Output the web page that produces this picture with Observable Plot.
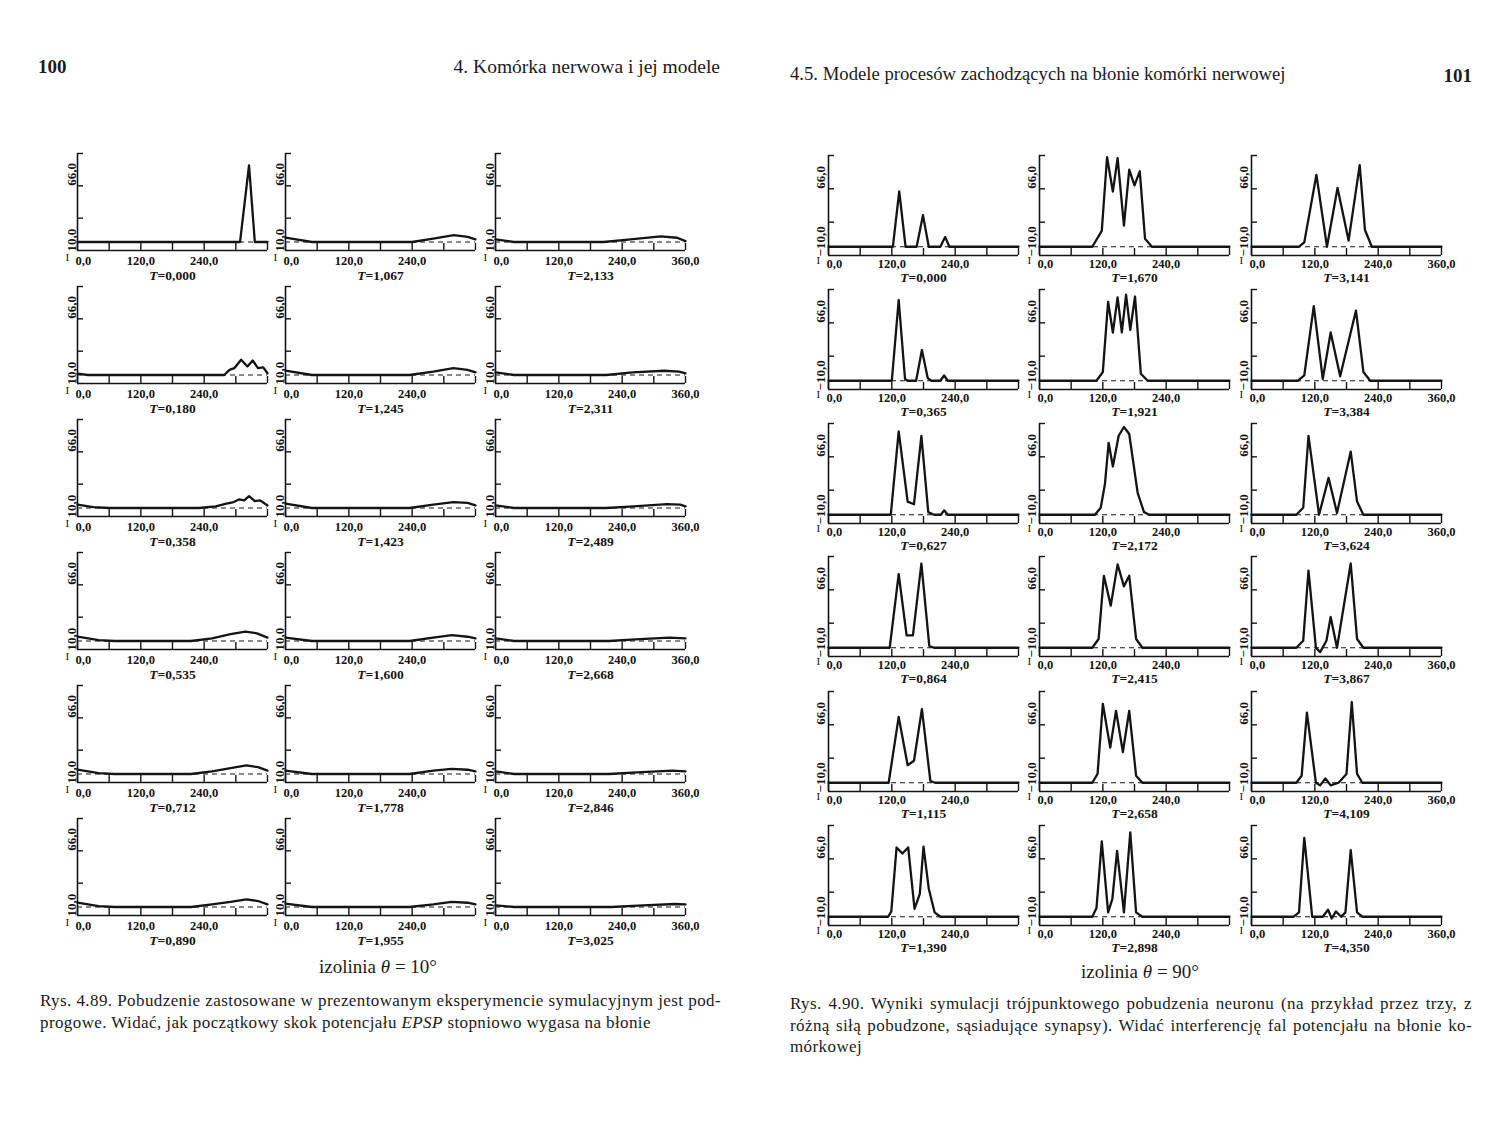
<!DOCTYPE html>
<html><head><meta charset="utf-8">
<script src="https://cdn.jsdelivr.net/npm/d3@7"></script>
<script src="https://cdn.jsdelivr.net/npm/@observablehq/plot@0.6"></script>
<style>
body{margin:0;background:#fff;}
#page{position:relative;width:1500px;height:1148px;overflow:hidden;font-family:"Liberation Serif","DejaVu Serif",serif;color:#1b1b1b;background:#fff}
.abs{position:absolute;white-space:nowrap}
.cap{position:absolute;font-size:17px;line-height:21px;letter-spacing:0.4px}
.jl{text-align:justify;text-align-last:justify;white-space:normal}
</style></head><body><div id="page"></div>
<script>
// ---------- tick / label values ----------
const xTicks = [0, 60, 120, 180, 240, 300, 360];
const yTicks = [28, 66, 104];
const xLabelsInner = [120, 240];
const xLabelsLast = [120, 240, 360];

// ---------- T labels (column-major: column 1 rows 1-6, column 2 ..., column 3 ...) ----------
const leftT = ["0,000","0,180","0,358","0,535","0,712","0,890",
               "1,067","1,245","1,423","1,600","1,778","1,955",
               "2,133","2,311","2,489","2,668","2,846","3,025"];
const rightT = ["0,000","0,365","0,627","0,864","1,115","1,390",
                "1,670","1,921","2,172","2,415","2,658","2,898",
                "3,141","3,384","3,624","3,867","4,109","4,350"];

// ---------- left page curves (izolinia 10°) : [x, potential] ----------
const L_c1r1 = [[0,0],[308,0],[325,90],[336,0],[360,0]];
const L_c1r2 = [[0,1.5],[20,0],[278,0],[288,6],[297,8],[310,18],[322,10],[332,17],[342,8],[352,9],[360,2]];
const L_c1r3 = [[0,4],[30,1],[60,0],[230,0],[262,2],[282,5],[296,7],[306,10],[316,9],[325,14],[336,8],[346,9],[360,3]];
const L_c1r4 = [[0,5],[40,1],[70,0],[215,0],[255,3],[290,8],[318,11],[340,9],[360,4]];
const L_c1r5 = [[0,5],[40,1],[70,0],[215,0],[255,3],[290,7],[320,10],[342,8],[360,4]];
const L_c1r6 = [[0,5],[40,1],[70,0],[215,0],[255,3],[290,6],[320,9],[342,7],[360,3]];
const L_c2r1 = [[0,5],[50,0],[240,0],[280,4],[319,8],[345,6],[360,3]];
const L_c2r2 = [[0,5],[50,0],[235,0],[280,4],[318,8],[345,6],[360,3]];
const L_c2r3 = [[0,5],[50,0],[235,0],[280,4],[318,7],[345,6],[360,3]];
const L_c2r4 = [[0,4],[50,0],[235,0],[280,4],[315,7],[345,5],[360,3]];
const L_c2r5 = [[0,4],[50,0],[235,0],[280,4],[315,6],[345,5],[360,3]];
const L_c2r6 = [[0,4],[50,0],[235,0],[280,3],[315,6],[345,5],[360,3]];
const L_c3r1 = [[0,3],[35,0],[205,0],[256,3],[313,6.7],[344,5],[360,1]];
const L_c3r2 = [[0,3],[35,0],[210,0],[260,3],[320,5],[348,4],[360,2]];
const L_c3r3 = [[0,3],[35,0],[210,0],[262,2],[325,4.5],[350,4],[360,2]];
const L_c3r4 = [[0,3],[35,0],[215,0],[265,2],[330,4],[360,3]];
const L_c3r5 = [[0,3],[35,0],[215,0],[268,2],[335,4],[360,3]];
const L_c3r6 = [[0,2],[35,0],[220,0],[270,1.5],[340,3.5],[360,3]];

// ---------- right page curves (izolinia 90°) ----------
const R_c1r1 = [[0,0],[122,0],[134,63],[146,0],[167,0],[179,36],[190,0],[212,0],[221,11],[229,0],[360,0]];
const R_c1r2 = [[0,0],[120,0],[133,92],[145,2],[150,0],[166,0],[177,35],[188,3],[195,0],[212,0],[219,6],[226,0],[360,0]];
const R_c1r3 = [[0,0],[118,0],[133,95],[150,15],[162,12],[176,90],[189,3],[200,0],[213,0],[219,5],[226,0],[360,0]];
const R_c1r4 = [[0,0],[116,0],[133,84],[148,14],[160,14],[176,96],[191,2],[200,0],[360,0]];
const R_c1r5 = [[0,0],[114,0],[133,75],[150,20],[162,25],[177,84],[193,2],[202,0],[360,0]];
const R_c1r6 = [[0,0],[113,0],[119,6],[129,79],[140,72],[151,79],[163,9],[173,26],[180,80],[190,32],[201,5],[212,0],[360,0]];
const R_c2r1 = [[0,0],[100,0],[118,18],[128,102],[139,63],[148,101],[160,24],[170,88],[180,70],[190,86],[200,9],[213,0],[360,0]];
const R_c2r2 = [[0,0],[108,0],[120,10],[130,90],[139,55],[148,95],[156,55],[164,98],[172,58],[181,96],[192,8],[205,0],[360,0]];
const R_c2r3 = [[0,0],[105,0],[116,8],[124,35],[131,82],[139,55],[150,90],[160,100],[170,92],[186,25],[198,3],[208,0],[360,0]];
const R_c2r4 = [[0,0],[100,0],[112,10],[122,82],[135,48],[148,95],[160,70],[170,82],[183,10],[195,0],[360,0]];
const R_c2r5 = [[0,0],[100,0],[110,10],[120,90],[134,40],[145,82],[158,35],[170,82],[183,8],[195,0],[360,0]];
const R_c2r6 = [[0,0],[100,0],[108,10],[118,86],[130,5],[138,20],[147,75],[160,5],[172,96],[183,5],[195,0],[360,0]];
const R_c3r1 = [[0,0],[90,0],[100,5],[123,82],[143,0],[163,67],[184,7],[205,93],[215,19],[228,0],[360,0]];
const R_c3r2 = [[0,0],[88,0],[100,6],[118,85],[135,2],[150,55],[168,5],[198,80],[212,10],[225,0],[360,0]];
const R_c3r3 = [[0,0],[85,0],[98,8],[108,90],[128,0],[146,42],[162,2],[188,72],[200,15],[212,0],[360,0]];
const R_c3r4 = [[0,0],[85,0],[98,8],[108,88],[122,0],[130,-5],[142,8],[150,35],[162,0],[188,96],[200,10],[212,0],[360,0]];
const R_c3r5 = [[0,0],[85,0],[95,8],[105,80],[122,0],[130,-3],[140,5],[150,-3],[165,0],[180,10],[190,92],[200,10],[210,0],[360,0]];
const R_c3r6 = [[0,0],[80,0],[90,5],[100,90],[115,0],[135,0],[145,8],[152,-2],[160,6],[170,0],[178,5],[188,76],[200,5],[210,0],[360,0]];

const leftCurves = [L_c1r1,L_c1r2,L_c1r3,L_c1r4,L_c1r5,L_c1r6,
                    L_c2r1,L_c2r2,L_c2r3,L_c2r4,L_c2r5,L_c2r6,
                    L_c3r1,L_c3r2,L_c3r3,L_c3r4,L_c3r5,L_c3r6];
const rightCurves = [R_c1r1,R_c1r2,R_c1r3,R_c1r4,R_c1r5,R_c1r6,
                     R_c2r1,R_c2r2,R_c2r3,R_c2r4,R_c2r5,R_c2r6,
                     R_c3r1,R_c3r2,R_c3r3,R_c3r4,R_c3r5,R_c3r6];

// ---------- layout ----------
const W = 190, mL = 30, mR = 26, mT = 8, mB = 46;
const INK = "#141414";
const FONT = "'Liberation Serif', 'DejaVu Serif', serif";
const page = document.getElementById("page");

function fmt(minus) {
  return v => (v < 0 && minus ? "\u2212" : "") + Math.abs(v).toFixed(1).replace(".", ",");
}

function makePanel(pts, t, last, minus, innerH, xDy, tDy, yDx) {
  const data = pts.map(([x, y]) => ({x, y}));
  const f = fmt(minus);
  const svg = Plot.plot({
    width: W + mL + mR, height: innerH + mT + mB,
    marginLeft: mL, marginRight: mR, marginTop: mT, marginBottom: mB,
    x: {domain: [0, 360], axis: null},
    y: {domain: [-10, 104], axis: null},
    style: {background: "transparent", fontFamily: FONT, fontSize: "12.5px", fontWeight: "bold", color: INK, overflow: "visible"},
    marks: [
      Plot.ruleY([0], {stroke: INK, strokeWidth: 1.2, strokeDasharray: "5,4"}),
      Plot.line(data, {x: "x", y: "y", stroke: INK, strokeWidth: 2.3, strokeLinejoin: "round"}),
      Plot.ruleY([-10], {stroke: INK, strokeWidth: 1.6}),
      Plot.ruleX([0], {stroke: INK, strokeWidth: 1.6}),
      Plot.tickX(xTicks, {x: d => d, insetTop: innerH - 7, stroke: INK, strokeWidth: 1.4}),
      Plot.tickY(yTicks, {y: d => d, insetRight: W - 6, stroke: INK, strokeWidth: 1.4}),
      Plot.text([0], {x: d => d, y: -10, dy: xDy, dx: -2, textAnchor: "start", text: fmt(false), fill: INK}),
      Plot.text(["I"], {frameAnchor: "bottom-left", dy: xDy, dx: -12, text: d => d, fill: INK, fontSize: 11, fontWeight: "normal"}),
      Plot.text(last ? xLabelsLast : xLabelsInner, {x: d => d, y: -10, dy: xDy, text: fmt(false), fill: INK}),
      Plot.text([-10], {y: d => d, frameAnchor: "left", dx: yDx, dy: 1, rotate: -90, textAnchor: "start", text: f, fill: INK, fontSize: 13}),
      Plot.text([66], {y: d => d, frameAnchor: "left", dx: yDx, rotate: -90, text: f, fill: INK, fontSize: 13}),
      Plot.text([t], {frameAnchor: "bottom", dy: tDy, text: d => "T=" + d, fill: INK, fontSize: 13.5})
    ]
  });
  svg.querySelectorAll("text").forEach(el => {
    const s = el.textContent;
    if (s.startsWith("T=")) {
      el.textContent = "";
      const ns = "http://www.w3.org/2000/svg";
      const a = document.createElementNS(ns, "tspan");
      a.setAttribute("font-style", "italic"); a.textContent = "T";
      const b = document.createElementNS(ns, "tspan"); b.textContent = s.slice(1);
      el.appendChild(a); el.appendChild(b);
    }
  });
  return svg;
}

function placePage(curves, Ts, colX, rowTop, innerH, minus, xDy, tDy, yDx) {
  for (let c = 0; c < 3; c++) {
    for (let r = 0; r < 6; r++) {
      const i = c * 6 + r;
      const svg = makePanel(curves[i], Ts[i], c === 2, minus, innerH, xDy, tDy, yDx);
      const d = document.createElement("div");
      d.className = "abs";
      d.style.left = (colX[c] - mL) + "px";
      d.style.top = (rowTop[r] - mT) + "px";
      d.appendChild(svg);
      page.appendChild(d);
    }
  }
}

placePage(leftCurves, leftT, [77, 285, 495], [153, 286, 419, 552, 685, 818], 97, false, 10, 29, -6);
placePage(rightCurves, rightT, [828, 1039, 1251], [155, 289, 423, 556, 691, 825], 100, true, 8, 26, -8);

// ---------- page text ----------
function addText(html, style) {
  const d = document.createElement("div");
  d.className = "abs";
  d.innerHTML = html;
  Object.assign(d.style, style);
  page.appendChild(d);
  return d;
}
addText("100", {left: "38px", top: "56px", fontSize: "19px", fontWeight: "bold"});
addText("4. Komórka nerwowa i jej modele", {right: (1500 - 720) + "px", top: "56px", fontSize: "19.5px"});
addText("4.5. Modele procesów zachodzących na błonie komórki nerwowej", {left: "790px", top: "63px", fontSize: "18.7px"});
addText("101", {right: "28px", top: "65px", fontSize: "19px", fontWeight: "bold"});

addText("izolinia <i>θ</i> = 10°", {left: "378px", top: "956px", fontSize: "19px", transform: "translateX(-50%)"});
addText("izolinia <i>θ</i> = 90°", {left: "1140px", top: "961px", fontSize: "19px", transform: "translateX(-50%)"});

function caption(lines, left, top, width) {
  lines.forEach((ln, k) => {
    const d = document.createElement("div");
    d.className = "cap" + (k < lines.length - 1 ? " jl" : "");
    d.style.left = left + "px";
    d.style.top = (top + k * 21.5) + "px";
    d.style.width = width + "px";
    if (k === lines.length - 1) d.style.whiteSpace = "nowrap";
    d.innerHTML = ln;
    page.appendChild(d);
  });
}
caption(["Rys. 4.89. Pobudzenie zastosowane w prezentowanym eksperymencie symulacyjnym jest pod-",
         "progowe. Widać, jak początkowy skok potencjału <i>EPSP</i> stopniowo wygasa na błonie"], 40, 990, 681);
caption(["Rys. 4.90. Wyniki symulacji trójpunktowego pobudzenia neuronu (na przykład przez trzy, z",
         "różną siłą pobudzone, sąsiadujące synapsy). Widać interferencję fal potencjału na błonie ko-",
         "mórkowej"], 790, 993, 682);
</script>
</body></html>
